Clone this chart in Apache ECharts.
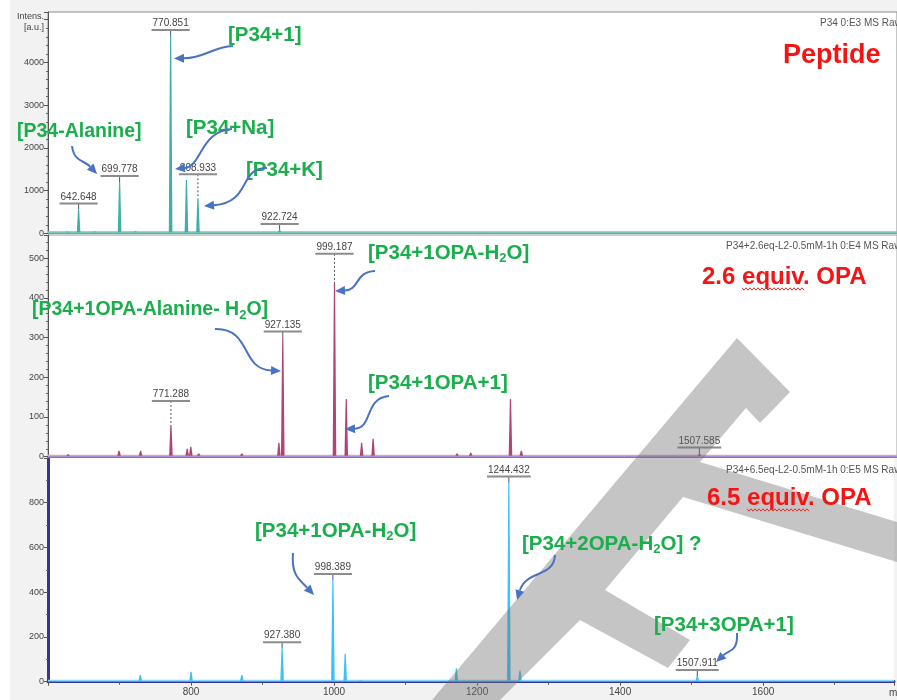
<!DOCTYPE html>
<html>
<head>
<meta charset="utf-8">
<script src="https://cdn.jsdelivr.net/npm/echarts/dist/echarts.min.js"></script>
<style>
  html, body { margin: 0; padding: 0; background: #fff; }
  #chart { width: 897px; height: 700px; }
</style>
</head>
<body>
<div id="chart"></div>
<script>
// m/z window shared by the three stacked spectra
const mzMin = 600;
const mzMax = 1783;
const mzTicks = [800, 1000, 1200, 1400, 1600];

// Peptide alone: peak m/z and intensity [a.u.]
const peptideMz   = [627.0, 642.648, 665.0, 699.778, 722.0, 739.0, 770.851, 792.9, 808.933, 922.724];
const peptideInt  = [40, 560, 40, 1200, 50, 25, 4620, 1250, 820, 80];
const peptideTags = [642.648, 699.778, 770.851, 808.933, 922.724];
const peptideTicks = [0, 1000, 2000, 3000, 4000];

// Peptide + 2.6 equiv. OPA
const opa26Mz   = [628.0, 699.0, 729.0, 771.288, 794.0, 799.0, 810.0, 870.0, 921.7, 927.135, 999.187, 1015.6, 1037.0, 1053.0, 1170.0, 1189.0, 1244.4, 1259.5, 1507.585];
const opa26Int  = [6, 15, 15, 80, 20, 25, 8, 8, 35, 300, 435, 145, 35, 45, 8, 10, 145, 15, 8];
const opa26Tags = [771.288, 927.135, 999.187, 1507.585];
const opa26Ticks = [0, 100, 200, 300, 400, 500];

// Peptide + 6.5 equiv. OPA
const opa65Mz   = [729.0, 800.0, 871.0, 927.380, 998.389, 1015.6, 1037.0, 1171.0, 1189.0, 1244.432, 1260.0, 1507.911];
const opa65Int  = [30, 45, 30, 150, 455, 125, 8, 60, 5, 890, 50, 25];
const opa65Tags = [927.380, 998.389, 1244.432, 1507.911];
const opa65Ticks = [0, 200, 400, 600, 800];

const runNames    = ['P34 0:E3 MS Raw', 'P34+2.6eq-L2-0.5mM-1h 0:E4 MS Raw', 'P34+6.5eq-L2-0.5mM-1h 0:E5 MS Raw'];
const panelTitles = ['Peptide', '2.6 equiv. OPA', '6.5 equiv. OPA'];

// Peak assignments (H_2O -> subscript 2)
const notesTop = ['[P34+1]', '[P34-Alanine]', '[P34+Na]', '[P34+K]'];
const notesMid = ['[P34+1OPA-H_2O]', '[P34+1OPA-Alanine- H_2O]', '[P34+1OPA+1]'];
const notesBot = ['[P34+1OPA-H_2O]', '[P34+2OPA-H_2O] ?', '[P34+3OPA+1]'];

const GREEN = '#1aae4c';
const BLUE = '#4a72c2';
const RED = '#f51414';
const SANS = '"Liberation Sans", Arial, sans-serif';

const measureCtx = document.createElement('canvas').getContext('2d');
function textWidth(t, font) { measureCtx.font = font; return measureCtx.measureText(t).width; }

// extra rise (px) of peak labels that sit on a dotted leader
const labelLift = { 808.933: 18, 771.288: 18, 999.187: 24 };

function spectrum(idx, mz, inten, tags, peakColor, baseColor) {
  return {
    type: 'custom',
    xAxisIndex: idx,
    yAxisIndex: idx,
    clip: true,
    z: 3,
    data: mz.map((m, i) => [m, inten[i]]),
    renderItem(params, api) {
      const m = api.value(0), h = api.value(1);
      const p0 = api.coord([m, 0]);
      const p1 = api.coord([m, h]);
      const kids = [];
      if (params.dataIndex === 0) {
        const cs = params.coordSys;
        kids.push({ type: 'line', shape: { x1: cs.x, y1: p0[1] - 1, x2: cs.x + cs.width, y2: p0[1] - 1 },
                    style: { stroke: baseColor, lineWidth: 2 } });
      }
      kids.push({ type: 'polygon',
                  shape: { points: [[p0[0] - 1.8, p0[1] - 1], [p1[0] - 0.6, p1[1]], [p1[0] + 0.6, p1[1]], [p0[0] + 1.8, p0[1] - 1]] },
                  style: { fill: peakColor } });
      if (tags.includes(m)) {
        const txt = m.toFixed(3);
        const font = '10px ' + SANS;
        const w = textWidth(txt, font);
        const lift = labelLift[m] || 0;
        const uy = p1[1] - 6 - lift;
        kids.push({ type: 'line', shape: { x1: p1[0], y1: uy, x2: p1[0], y2: p1[1] },
                    style: { stroke: '#555', lineWidth: 1, lineDash: lift ? [2, 2] : null } });
        kids.push({ type: 'line', shape: { x1: p1[0] - w / 2 - 1, y1: uy, x2: p1[0] + w / 2 + 1, y2: uy },
                    style: { stroke: '#8c8c8c', lineWidth: 2 } });
        kids.push({ type: 'text', x: p1[0], y: uy - 1.5,
                    style: { text: txt, font: font, fill: '#444', align: 'center', verticalAlign: 'bottom' } });
      }
      return { type: 'group', children: kids };
    }
  };
}

function yAxis(idx, max, interval, ticks, lineColor, lineWidth, minorSplit) {
  return {
    type: 'value', gridIndex: idx, min: 0, max: max, interval: interval,
    axisLine: { show: true, lineStyle: { color: lineColor, width: lineWidth } },
    axisTick: { show: true, length: 4, lineStyle: { color: '#555' } },
    minorTick: { show: true, splitNumber: minorSplit, length: 2, lineStyle: { color: '#666' } },
    splitLine: { show: false },
    axisLabel: { fontSize: 9, color: '#444', margin: 4, fontFamily: SANS,
                 formatter: v => ticks.includes(v) ? String(v) : '' }
  };
}

function xAxis(idx, showLabels, lineColor, lineWidth) {
  return {
    type: 'value', gridIndex: idx, min: mzMin, max: mzMax, interval: 200,
    axisLine: { show: true, onZero: false, lineStyle: { color: lineColor, width: lineWidth } },
    axisTick: { show: showLabels, length: 4, lineStyle: { color: '#555' } },
    minorTick: { show: showLabels, splitNumber: 2, length: 3, lineStyle: { color: '#555' } },
    splitLine: { show: false },
    axisLabel: { show: showLabels, fontSize: 10, color: '#444', margin: 6, fontFamily: SANS,
                 formatter: v => mzTicks.includes(v) ? String(v) : '' }
  };
}

function note(x, y, txt, size) {
  const parts = txt.split('_');
  let s = '{a|' + parts[0] + '}';
  for (let i = 1; i < parts.length; i++) {
    s += '{s|' + parts[i][0] + '}{a|' + parts[i].slice(1) + '}';
  }
  return {
    type: 'text', x: x, y: y, z: 100,
    style: {
      text: s, verticalAlign: 'middle', align: 'left',
      rich: {
        a: { fontSize: size, fontWeight: 'bold', fontFamily: SANS, fill: GREEN, color: GREEN, lineHeight: 24 },
        s: { fontSize: Math.round(size * 0.65), fontWeight: 'bold', fontFamily: SANS, fill: GREEN, color: GREEN,
             lineHeight: 12, verticalAlign: 'bottom' }
      }
    }
  };
}

function arrow(p0, c1, c2, tip) {
  const dx = tip[0] - c2[0], dy = tip[1] - c2[1], L = Math.hypot(dx, dy);
  const ux = dx / L, uy = dy / L;
  const len = 10, hw = 4.5;
  const bx = tip[0] - ux * len, by = tip[1] - uy * len;
  return [
    { type: 'bezierCurve', z: 100,
      shape: { x1: p0[0], y1: p0[1], cpx1: c1[0], cpy1: c1[1], cpx2: c2[0], cpy2: c2[1], x2: bx, y2: by },
      style: { stroke: BLUE, lineWidth: 2, fill: null } },
    { type: 'polygon', z: 100,
      shape: { points: [tip, [bx - uy * hw, by + ux * hw], [bx + uy * hw, by - ux * hw]] },
      style: { fill: BLUE } }
  ];
}

function title(x, y, txt, size, wavy) {
  const font = 'bold ' + size + 'px ' + SANS;
  const els = [{ type: 'text', x: x, y: y, z: 100,
                 style: { text: txt, font: font, fill: RED, verticalAlign: 'middle', align: 'left' } }];
  if (wavy) {
    const x0 = x + textWidth(txt.slice(0, txt.indexOf('equiv')), font);
    const x1 = x0 + textWidth('equiv', font);
    const pts = [];
    let k = 0;
    for (let px = x0; px <= x1; px += 2, k++) pts.push([px, y + 12 + (k % 2 ? 1.2 : -1.2)]);
    els.push({ type: 'polyline', z: 100, shape: { points: pts }, style: { stroke: '#e03030', lineWidth: 1, fill: null } });
  }
  return els;
}

// translucent grey stamp lying across the lower half (one compound shape, no overlaps)
const STAMP = 'rgba(110,110,110,0.4)';
const stamp = [
  { type: 'polygon', z: 90,
    shape: { points: [[432, 700], [737, 338], [790, 392], [760, 423], [746, 408], [700, 462],
                      [897, 522], [897, 562], [683, 497], [605, 590], [690, 640], [668, 668], [580, 620], [500, 700]] },
    style: { fill: STAMP } }
];

const smallFont = '10px ' + SANS;
const graphics = [
  { type: 'rect', shape: { x: 0, y: 0, width: 10, height: 700 }, style: { fill: '#fff' } },
  { type: 'text', x: 44, y: 17, style: { text: 'Intens.', font: '9px ' + SANS, fill: '#444', align: 'right', verticalAlign: 'middle' } },
  { type: 'text', x: 44, y: 28, style: { text: '[a.u.]', font: '9px ' + SANS, fill: '#444', align: 'right', verticalAlign: 'middle' } },
  { type: 'text', x: 820, y: 23, z: 50, style: { text: runNames[0], font: smallFont, fill: '#555', verticalAlign: 'middle' } },
  { type: 'text', x: 726, y: 246, z: 50, style: { text: runNames[1], font: smallFont, fill: '#555', verticalAlign: 'middle' } },
  { type: 'text', x: 726, y: 470, z: 50, style: { text: runNames[2], font: smallFont, fill: '#555', verticalAlign: 'middle' } },
  { type: 'text', x: 889, y: 693, style: { text: 'm/z', font: '10px ' + SANS, fill: '#444', verticalAlign: 'middle' } },
  ...title(783, 56, panelTitles[0], 27, false),
  ...title(702, 277, panelTitles[1], 24, true),
  ...title(707, 498, panelTitles[2], 24, true),
  note(228, 35, notesTop[0], 20.5),
  note(17, 132, notesTop[1], 19.5),
  note(186, 128, notesTop[2], 20.5),
  note(246, 170, notesTop[3], 20.5),
  note(368, 253, notesMid[0], 20.5),
  note(32, 310, notesMid[1], 19.5),
  note(368, 383, notesMid[2], 20.5),
  note(255, 531, notesBot[0], 20.5),
  note(522, 544, notesBot[1], 20.5),
  note(654, 625, notesBot[2], 20.5),
  ...arrow([233, 46], [212, 47], [205, 58], [174, 58.5]),
  ...arrow([72, 146], [74, 162], [84, 160], [97, 174]),
  ...arrow([232, 129], [200, 131], [202, 166], [175, 169]),
  ...arrow([267, 168], [238, 168], [252, 202], [204, 206]),
  ...arrow([375, 271], [354, 272], [360, 290], [335, 291]),
  ...arrow([215, 329], [252, 328], [240, 369], [281, 371]),
  ...arrow([389, 396], [364, 398], [373, 428], [345, 429]),
  ...arrow([293, 553], [291, 576], [300, 580], [314, 595]),
  ...arrow([555, 555], [554, 578], [526, 570], [517, 600]),
  ...arrow([737, 633], [738, 652], [729, 650], [716, 662]),
  ...stamp
];

const option = {
  backgroundColor: '#f2f2f2',
  animation: false,
  grid: [
    { left: 48, right: -3, top: 12, height: 221.3, show: true, backgroundColor: '#fff', borderColor: '#8a8a8a', borderWidth: 1 },
    { left: 48, right: -3, top: 235, height: 221.7, show: true, backgroundColor: '#fff', borderColor: '#a0a0a0', borderWidth: 1 },
    { left: 48, right: -3, top: 458, height: 223.7, show: true, backgroundColor: '#fff', borderColor: 'rgba(0,0,0,0)', borderWidth: 0 }
  ],
  xAxis: [
    xAxis(0, false, '#9a9a9a', 1),
    xAxis(1, false, '#7474ea', 2),
    xAxis(2, true, '#34349c', 3)
  ],
  yAxis: [
    yAxis(0, 5180, 1000, peptideTicks, '#555', 1, 5),
    yAxis(1, 558, 100, opa26Ticks, '#555', 1, 5),
    yAxis(2, 1000, 200, opa65Ticks, '#34349c', 3, 2)
  ],
  series: [
    spectrum(0, peptideMz, peptideInt, peptideTags, '#3fb0a6', '#74c6bf'),
    spectrum(1, opa26Mz, opa26Int, opa26Tags, '#b04477', '#d9a3bd'),
    spectrum(2, opa65Mz, opa65Int, opa65Tags, '#3fc2f2', '#86d8f6')
  ],
  graphic: graphics
};

const chart = echarts.init(document.getElementById('chart'));
chart.setOption(option);
</script>
</body>
</html>
